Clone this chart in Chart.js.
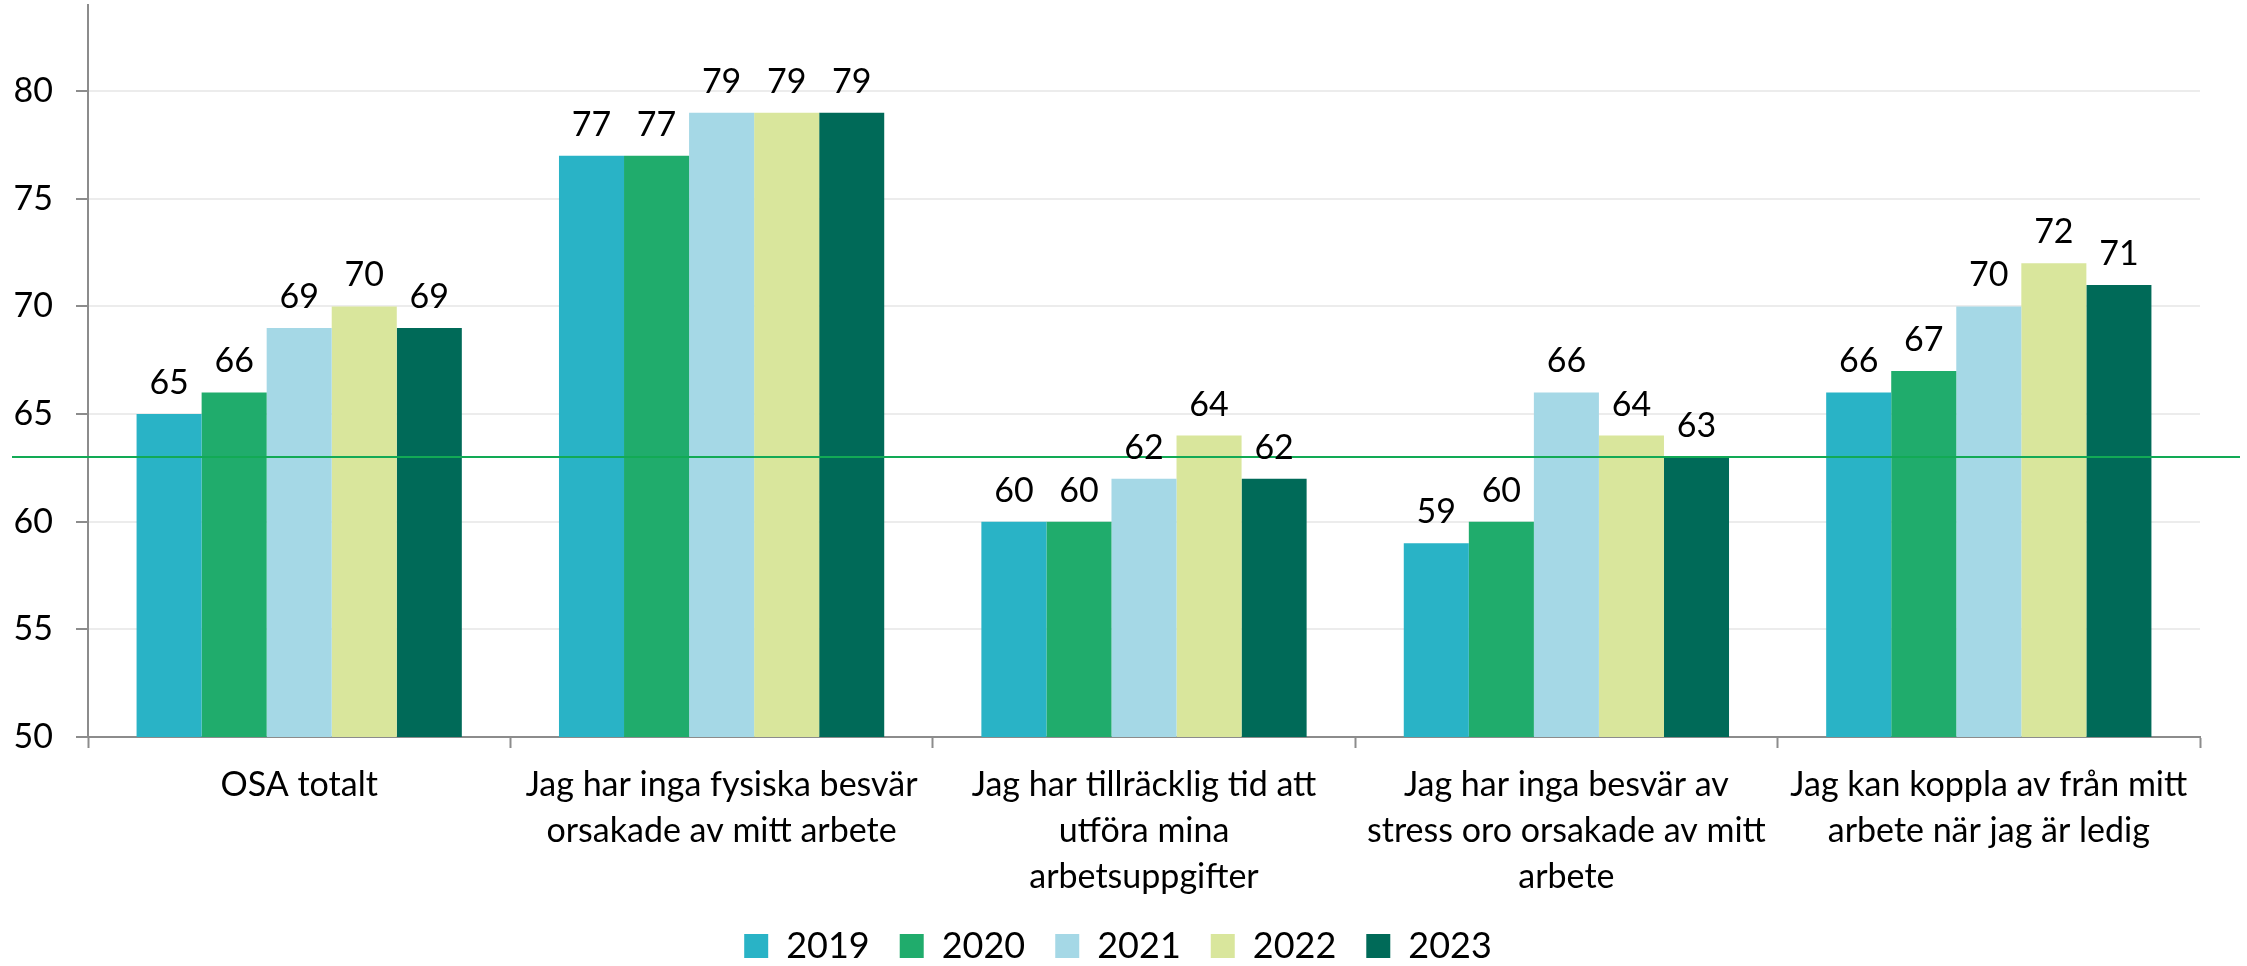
<!DOCTYPE html>
<html><head><meta charset="utf-8">
<script src="https://cdn.jsdelivr.net/npm/chart.js@4"></script>
<style>html,body{margin:0;padding:0;background:#fff;overflow:hidden}#wrap{width:2247px;height:966px}</style>
</head><body><div id="wrap"><canvas id="c" width="2247" height="966"></canvas></div>
<script>
const categories = [
  "OSA totalt",
  ["Jag har inga fysiska besvär", "orsakade av mitt arbete"],
  ["Jag har tillräcklig tid att", "utföra mina", "arbetsuppgifter"],
  ["Jag har inga besvär av", "stress oro orsakade av mitt", "arbete"],
  ["Jag kan koppla av från mitt", "arbete när jag är ledig"]
];
const years = ["2019", "2020", "2021", "2022", "2023"];
const values2019 = [65, 77, 60, 59, 66];
const values2020 = [66, 77, 60, 60, 67];
const values2021 = [69, 79, 62, 66, 70];
const values2022 = [70, 79, 64, 64, 72];
const values2023 = [69, 79, 62, 63, 71];
const referenceValue = 63;
const yTickValues = [50, 55, 60, 65, 70, 75, 80];

const colors = ["#29B3C6", "#20AC6C", "#A5D8E6", "#D9E69C", "#006A58"];
const FONT = "Lato, 'Open Sans', sans-serif";
const seriesValues = [values2019, values2020, values2021, values2022, values2023];

const overlay = {
  id: 'overlay',
  afterLayout(chart) {
    const lg = chart.legend;
    if (lg) { lg.left += 18; lg.right += 18; }
  },
  afterDatasetsDraw(chart) {
    const ctx = chart.ctx;
    const y = chart.scales.y.getPixelForValue(referenceValue);
    ctx.save();
    ctx.strokeStyle = '#12AA55';
    ctx.lineWidth = 2;
    ctx.beginPath();
    ctx.moveTo(12, y);
    ctx.lineTo(2240, y);
    ctx.stroke();
    ctx.font = "34px " + FONT;
    ctx.textAlign = 'center';
    ctx.textBaseline = 'bottom';
    ctx.fillStyle = '#000';
    chart.data.datasets.forEach((ds, i) => {
      chart.getDatasetMeta(i).data.forEach((bar, j) => {
        ctx.fillText(String(ds.data[j]), bar.x, bar.y - 14);
      });
    });
    ctx.restore();
  }
};

new Chart(document.getElementById('c'), {
  type: 'bar',
  data: {
    labels: categories,
    datasets: years.map((yr, i) => ({
      label: yr,
      data: seriesValues[i],
      backgroundColor: colors[i],
      borderWidth: 0,
      categoryPercentage: 0.77,
      barPercentage: 1.0
    }))
  },
  options: {
    responsive: false,
    devicePixelRatio: 1,
    animation: false,
    layout: { padding: { left: 0, right: 47, top: 5, bottom: -8 } },
    plugins: {
      legend: {
        position: 'bottom',
        labels: {
          boxWidth: 24, boxHeight: 24,
          padding: 30,
          color: '#000',
          font: { family: FONT, size: 36 }
        }
      },
      tooltip: { enabled: false }
    },
    scales: {
      x: {
        grid: { display: true, drawOnChartArea: false, offset: true, tickLength: 11, tickColor: '#8c8c8c', tickWidth: 2 },
        border: { color: '#8c8c8c', width: 2 },
        ticks: { color: '#000', font: { family: FONT, size: 34, lineHeight: 1.35 }, padding: 14, maxRotation: 0, autoSkip: false },
        afterFit(s) { s.paddingLeft = 0; s.paddingRight = 0; s.height = 161; }
      },
      y: {
        min: 50, max: 84,
        grid: { color: '#ececec', lineWidth: 2, tickLength: 12, tickColor: '#8c8c8c', tickWidth: 2 },
        border: { color: '#8c8c8c', width: 2 },
        ticks: { color: '#000', font: { family: FONT, size: 34 }, padding: 23, stepSize: 5 },
        afterBuildTicks(s) { s.ticks = yTickValues.map(v => ({ value: v })); },
        afterFit(s) { s.width = 88; s.paddingTop = 0; s.paddingBottom = 0; }
      }
    }
  },
  plugins: [overlay]
});
</script>
</body></html>
